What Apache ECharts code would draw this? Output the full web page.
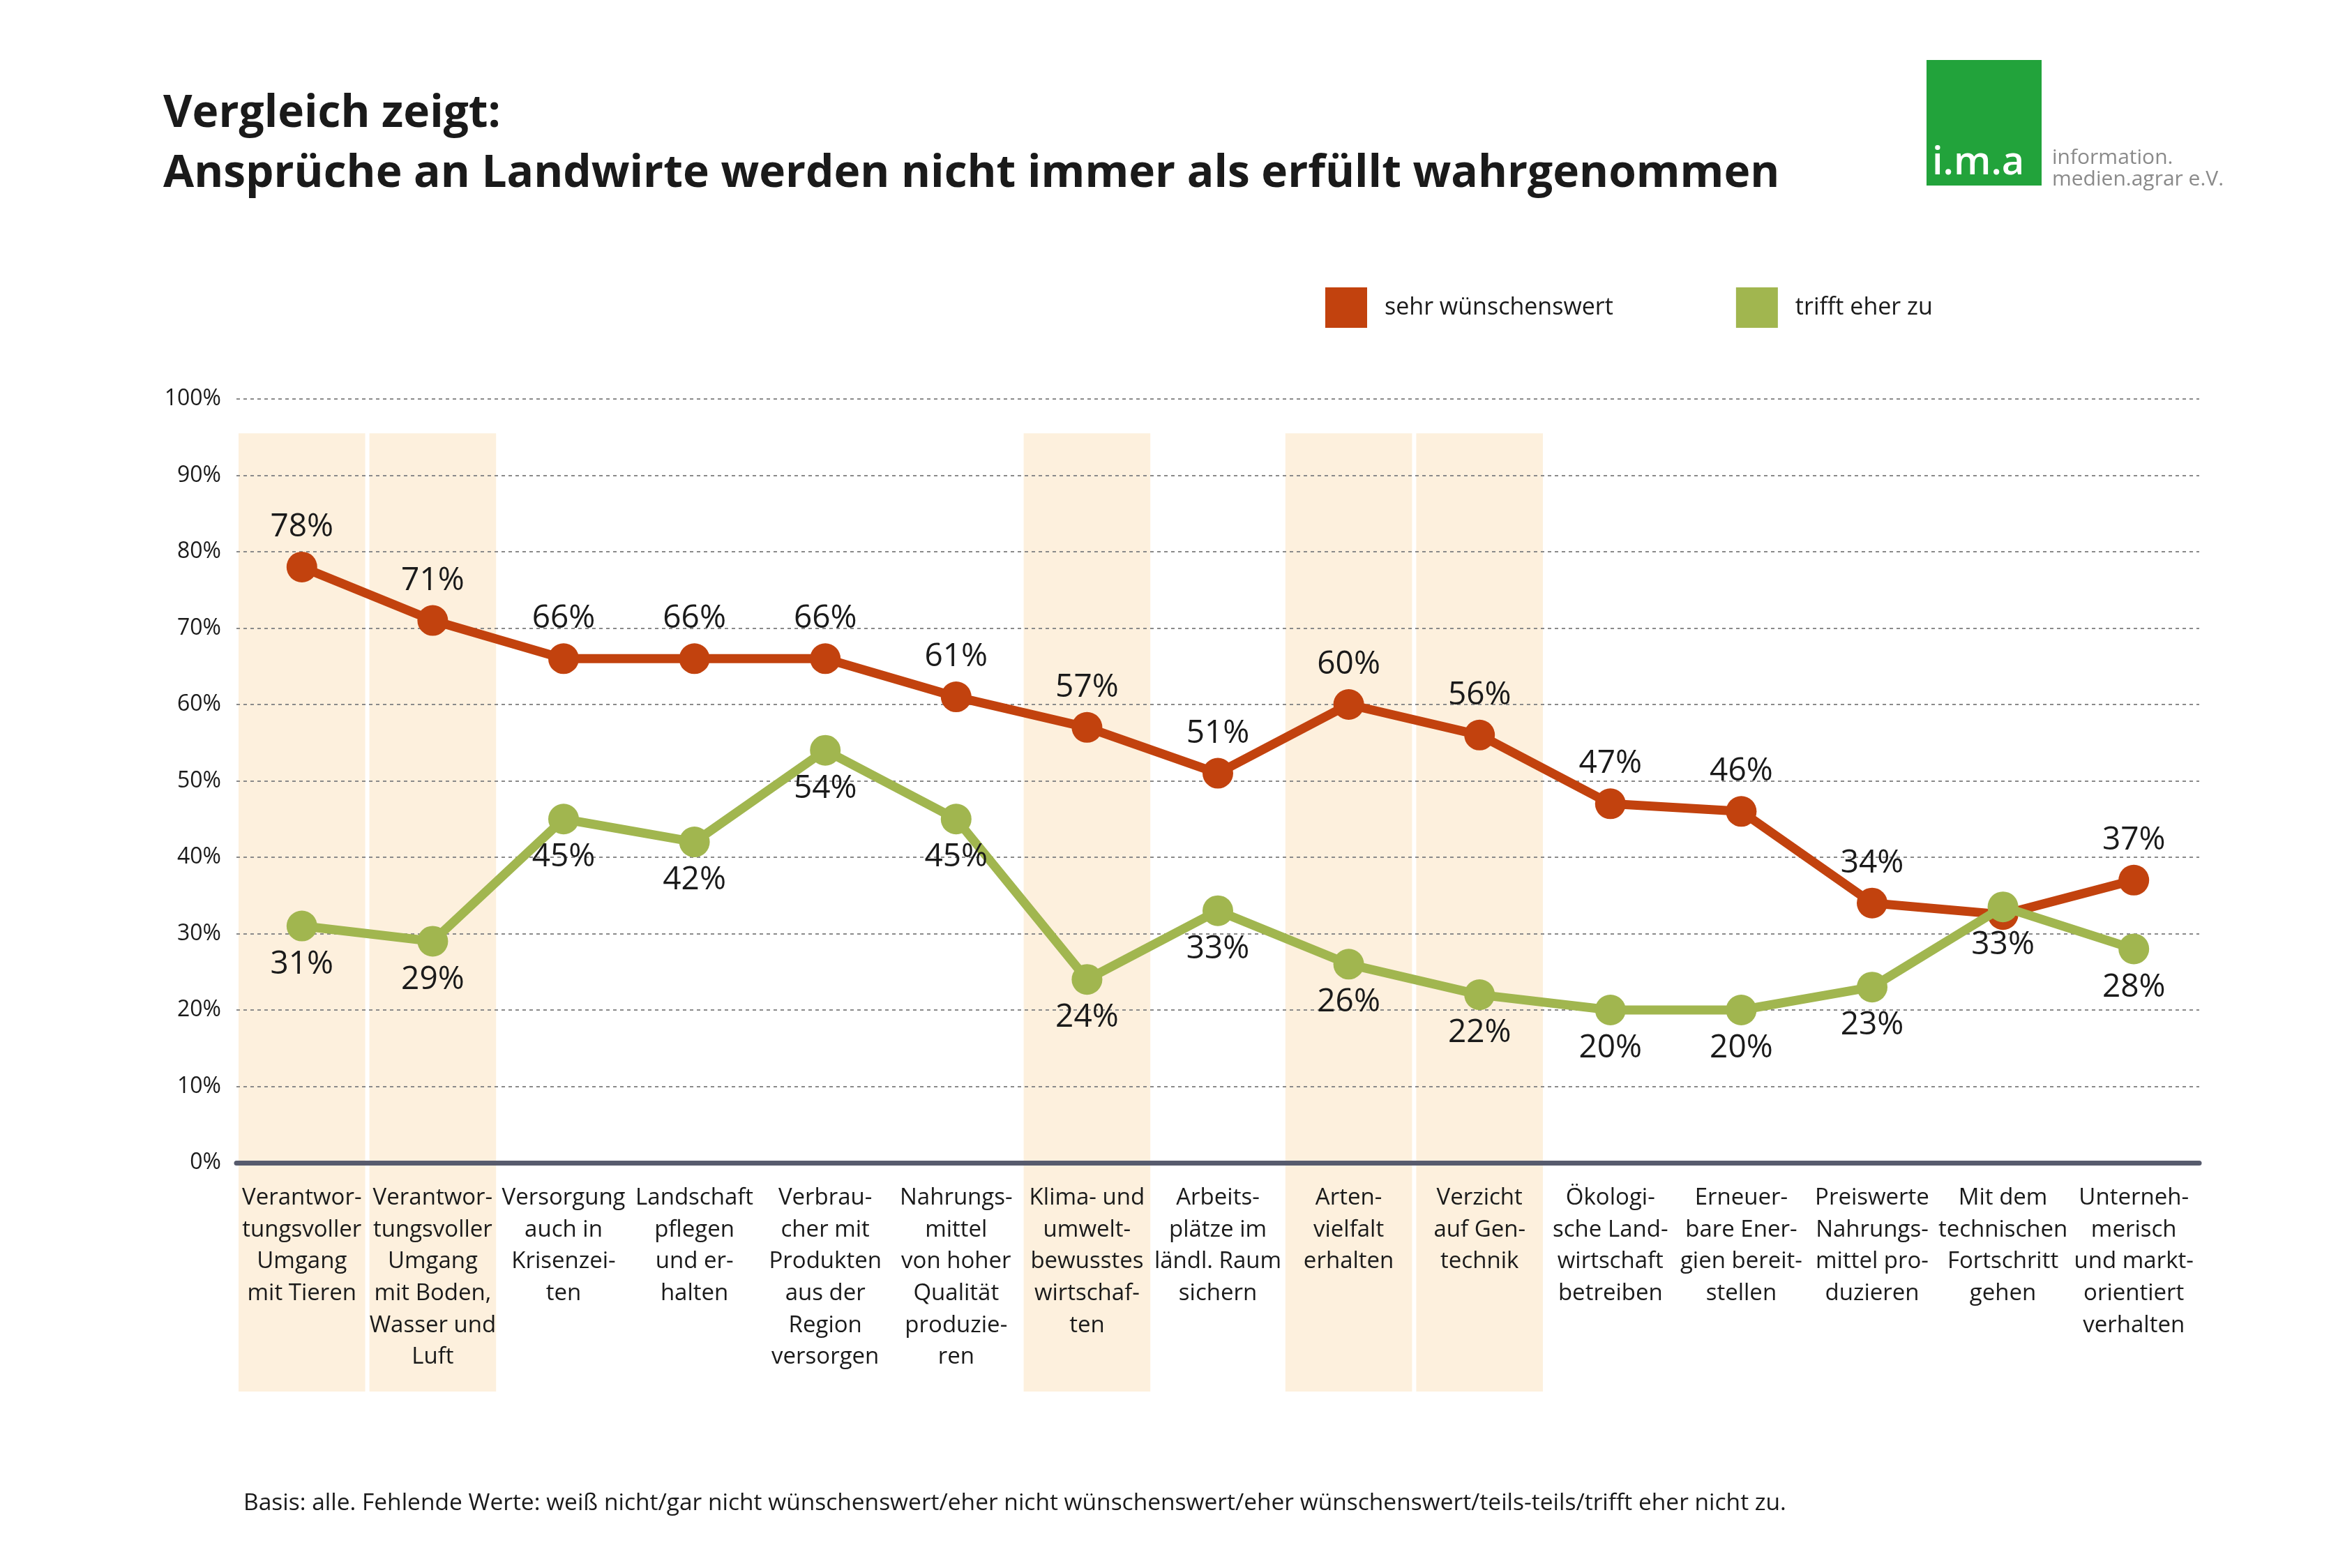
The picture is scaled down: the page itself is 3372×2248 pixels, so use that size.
<!DOCTYPE html>
<html>
<head>
<meta charset="utf-8">
<script src="https://cdn.jsdelivr.net/npm/echarts@6/dist/echarts.min.js"></script>
<style>
  html, body { margin: 0; padding: 0; background: #fff; }
  #main { width: 3372px; height: 2248px; }
</style>
</head>
<body>
<div id="main"></div>
<script>
// Kategorien (x-Achse)
var categories = [
  'Verantwor-\ntungsvoller\nUmgang\nmit Tieren',
  'Verantwor-\ntungsvoller\nUmgang\nmit Boden,\nWasser und\nLuft',
  'Versorgung\nauch in\nKrisenzei-\nten',
  'Landschaft\npflegen\nund er-\nhalten',
  'Verbrau-\ncher mit\nProdukten\naus der\nRegion\nversorgen',
  'Nahrungs-\nmittel\nvon hoher\nQualität\nproduzie-\nren',
  'Klima- und\numwelt-\nbewusstes\nwirtschaf-\nten',
  'Arbeits-\nplätze im\nländl. Raum\nsichern',
  'Arten-\nvielfalt\nerhalten',
  'Verzicht\nauf Gen-\ntechnik',
  'Ökologi-\nsche Land-\nwirtschaft\nbetreiben',
  'Erneuer-\nbare Ener-\ngien bereit-\nstellen',
  'Preiswerte\nNahrungs-\nmittel pro-\nduzieren',
  'Mit dem\ntechnischen\nFortschritt\ngehen',
  'Unterneh-\nmerisch\nund markt-\norientiert\nverhalten'
];
// sehr wünschenswert
var sehrValues = [78, 71, 66, 66, 66, 61, 57, 51, 60, 56, 47, 46, 34, 32.5, 37];
var sehrLabels = ['78%', '71%', '66%', '66%', '66%', '61%', '57%', '51%', '60%', '56%', '47%', '46%', '34%', '', '37%'];
// trifft eher zu
var trifftValues = [31, 29, 45, 42, 54, 45, 24, 33, 26, 22, 20, 20, 23, 33.5, 28];
var trifftLabels = ['31%', '29%', '45%', '42%', '54%', '45%', '24%', '33%', '26%', '22%', '20%', '20%', '23%', '33%', '28%'];
// hinterlegte Spalten
var highlighted = [0, 1, 6, 8, 9];
var bandTop = 95.5;

var RED = '#c2420e';
var GREEN = '#a1b64f';
var font = "'Open Sans', 'Noto Sans', sans-serif";

var chart = echarts.init(document.getElementById('main'));

var option = {
  backgroundColor: '#ffffff',
  animation: false,
  title: {
    text: 'Vergleich zeigt:\nAnsprüche an Landwirte werden nicht immer als erfüllt wahrgenommen',
    left: 229,
    top: 116,
    textStyle: {
      fontFamily: font,
      fontWeight: 'bold',
      fontSize: 64,
      lineHeight: 86,
      color: '#1a1a1a'
    }
  },
  legend: {
    left: 1900,
    top: 412,
    padding: 0,
    itemWidth: 60,
    itemHeight: 58,
    itemGap: 176,
    icon: 'rect',
    data: ['sehr wünschenswert', 'trifft eher zu'],
    textStyle: {
      fontFamily: font,
      fontSize: 34,
      color: '#1a1a1a',
      padding: [0, 0, 0, 20]
    }
  },
  grid: {
    left: 339,
    right: 219,
    top: 572,
    bottom: 581
  },
  xAxis: {
    type: 'category',
    data: categories,
    boundaryGap: true,
    axisLine: { lineStyle: { color: '#575b6d', width: 7 } },
    axisTick: { show: false },
    axisLabel: {
      interval: 0,
      margin: 28,
      fontFamily: font,
      fontSize: 33,
      lineHeight: 45.6,
      color: '#1a1a1a',
      align: 'center'
    }
  },
  yAxis: {
    type: 'value',
    min: 0,
    max: 100,
    interval: 10,
    axisLine: { show: false },
    axisTick: { show: false },
    axisLabel: {
      formatter: '{value}%',
      margin: 22,
      fontFamily: font,
      fontSize: 32,
      color: '#1a1a1a'
    },
    splitLine: {
      lineStyle: { color: '#8a8a8a', width: 2, type: [5, 5] }
    }
  },
  series: [
    {
      name: 'sehr wünschenswert',
      type: 'line',
      data: sehrValues,
      z: 4,
      color: RED,
      symbol: 'circle',
      symbolSize: 44,
      lineStyle: { width: 13, color: RED },
      itemStyle: { color: RED },
      label: {
        show: true,
        position: 'top',
        distance: 12,
        fontFamily: font,
        fontSize: 46,
        color: '#1a1a1a',
        formatter: function (p) { return sehrLabels[p.dataIndex]; }
      }
    },
    {
      name: 'trifft eher zu',
      type: 'line',
      data: trifftValues,
      z: 5,
      color: GREEN,
      symbol: 'circle',
      symbolSize: 44,
      lineStyle: { width: 13, color: GREEN },
      itemStyle: { color: GREEN },
      label: {
        show: true,
        position: 'bottom',
        distance: 10,
        fontFamily: font,
        fontSize: 46,
        color: '#1a1a1a',
        formatter: function (p) { return trifftLabels[p.dataIndex]; }
      }
    }
  ]
};
chart.setOption(option);

// Hinterlegung der Spalten, Logo und Fussnote
var step = chart.convertToPixel({ xAxisIndex: 0 }, 1) - chart.convertToPixel({ xAxisIndex: 0 }, 0);
var yTop = chart.convertToPixel({ yAxisIndex: 0 }, bandTop);
var yZero = chart.convertToPixel({ yAxisIndex: 0 }, 0);
var graphics = highlighted.map(function (i) {
  var cx = chart.convertToPixel({ xAxisIndex: 0 }, i);
  return {
    type: 'rect',
    z: -10,
    shape: { x: cx - step / 2 + 3, y: yTop, width: step - 6, height: yZero - yTop + 328 },
    style: { fill: '#fdf0dd' }
  };
});
graphics.push(
  { type: 'rect', left: 2762, top: 86, shape: { width: 165, height: 180 }, style: { fill: '#22a33b' } },
  { type: 'text', style: { x: 2770, y: 234, text: 'i.m.a', fill: '#ffffff', verticalAlign: 'middle', font: "600 56px 'Open Sans', sans-serif" } },
  { type: 'text', left: 2942, top: 211, style: { text: 'information.\nmedien.agrar e.V.', fill: '#8a8a8a', font: "30px 'Open Sans', sans-serif", lineHeight: 31 } },
  { type: 'text', left: 349, top: 2138, style: { text: 'Basis: alle. Fehlende Werte: weiß nicht/gar nicht wünschenswert/eher nicht wünschenswert/eher wünschenswert/teils-teils/trifft eher nicht zu.', fill: '#1a1a1a', font: "33.5px 'Open Sans', sans-serif" } }
);
chart.setOption({ graphic: graphics });
</script>
</body>
</html>
